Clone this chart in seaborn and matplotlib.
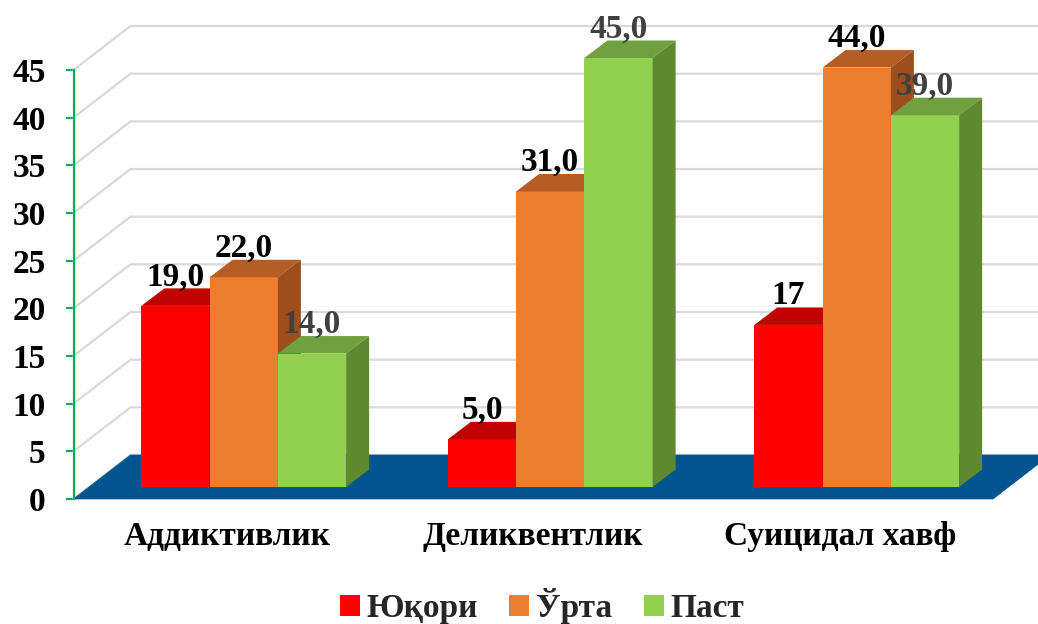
import numpy as np
import pandas as pd
import seaborn as sns
import matplotlib
matplotlib.use("Agg")
import matplotlib.pyplot as plt
from matplotlib.patches import Polygon, Patch, Rectangle
from matplotlib.lines import Line2D
from matplotlib.transforms import ScaledTranslation

# ---- data ----
categories = ["Аддиктивлик", "Деликвентлик", "Суицидал хавф"]
series = ["Юқори", "Ўрта", "Паст"]
yuqori = [19.0, 5.0, 17.0]
urta = [22.0, 31.0, 44.0]
past = [14.0, 45.0, 39.0]
yuqori_labels = ["19,0", "5,0", "17"]
urta_labels = ["22,0", "31,0", "44,0"]
past_labels = ["14,0", "45,0", "39,0"]
y_ticks = [0, 5, 10, 15, 20, 25, 30, 35, 40, 45]

# ---- style ----
front_colors = ["#FF0000", "#ED7D31", "#92D050"]
top_colors = ["#C00000", "#B55D24", "#71A03F"]
side_colors = ["#A00000", "#9C4F1D", "#5F8833"]
label_colors = ["#000000", "#000000", "#404040"]
floor_color = "#02558F"
grid_color = "#D9D9D9"
axis_color = "#00B050"
FS = 24

sns.set_theme(style="white")
plt.rcParams["font.family"] = ["Liberation Serif", "DejaVu Serif"]
plt.rcParams["font.weight"] = "bold"

df = pd.DataFrame({
    "category": categories * 3,
    "series": [series[0]] * 3 + [series[1]] * 3 + [series[2]] * 3,
    "value": yuqori + urta + past,
})
all_labels = [yuqori_labels, urta_labels, past_labels]

DPI = 100
fig = plt.figure(figsize=(10.38, 6.24), dpi=DPI)
ax = fig.add_axes([73.5 / 1038, 1 - 499 / 624, (993 - 73.5) / 1038, 429 / 624])

sns.barplot(data=df, x="category", y="value", hue="series", order=categories,
            hue_order=series, palette=front_colors, width=0.668, gap=0,
            saturation=1, errorbar=None, legend=False, linewidth=0, ax=ax)

bars = sorted([p for p in ax.patches if isinstance(p, Rectangle)], key=lambda p: p.get_x())

ax.set_xlim(-0.5, 2.5)
ax.set_ylim(0, 45)
ax.set_yticks(y_ticks)
ax.set_xlabel("")
ax.set_ylabel("")

pos = ax.get_position()
W = pos.width * fig.get_figwidth() * DPI
H = pos.height * fig.get_figheight() * DPI
ux = W / 3.0
uy = H / 45.0

# depth geometry (pixels)
floor_dx, floor_dy = 57, 44
plane_dx, plane_dy = 17, 12
bar_dx, bar_dy = 23, 17.5

trans_bar = ax.transData + ScaledTranslation(plane_dx / DPI, plane_dy / DPI, fig.dpi_scale_trans)
trans_lab = ax.transData + ScaledTranslation(plane_dx / DPI, (plane_dy + 3) / DPI, fig.dpi_scale_trans)

# back & side wall gridlines
fdx, fdy = floor_dx / ux, floor_dy / uy
for v in y_ticks:
    ax.add_line(Line2D([-0.5, -0.5 + fdx, 2.5 + fdx], [v, v + fdy, v + fdy],
                       color=grid_color, lw=1.6, zorder=1, clip_on=False))

# floor
ax.add_patch(Polygon([(-0.5, 0), (2.5, 0), (2.5 + fdx, fdy), (-0.5 + fdx, fdy)],
                     closed=True, facecolor=floor_color, edgecolor=floor_color,
                     lw=0.5, zorder=2, clip_on=False))

# bars: 3D faces
ddx, ddy = bar_dx / ux, bar_dy / uy
for i, b in enumerate(bars):
    g, s = i // 3, i % 3
    x0 = b.get_x(); w = b.get_width(); h = b.get_height(); x1 = x0 + w
    b.set_transform(trans_bar)
    b.set_clip_on(False)
    b.set_zorder(10 + 3 * i)
    top = Polygon([(x0, h), (x1, h), (x1 + ddx, h + ddy), (x0 + ddx, h + ddy)],
                  closed=True, facecolor=top_colors[s], edgecolor="none",
                  transform=trans_bar, zorder=11 + 3 * i, clip_on=False)
    side = Polygon([(x1, 0), (x1, h), (x1 + ddx, h + ddy), (x1 + ddx, ddy)],
                   closed=True, facecolor=side_colors[s], edgecolor="none",
                   transform=trans_bar, zorder=12 + 3 * i, clip_on=False)
    ax.add_patch(top)
    ax.add_patch(side)
    ax.text(x0 + w / 2, h + ddy, all_labels[s][g], transform=trans_lab,
            ha="center", va="baseline", fontsize=FS, fontweight="bold",
            color=label_colors[s], zorder=200, clip_on=False)

# axes styling
for sp in ["top", "right", "bottom"]:
    ax.spines[sp].set_visible(False)
ax.spines["left"].set_color(axis_color)
ax.spines["left"].set_linewidth(1.6)
ax.spines["left"].set_zorder(5)
ax.tick_params(axis="y", length=6, width=1.6, color=axis_color, direction="out",
               labelsize=FS, pad=14, left=True)
ax.tick_params(axis="x", length=0, labelsize=FS, pad=16)
for t in ax.get_xticklabels() + ax.get_yticklabels():
    t.set_fontweight("bold")
    t.set_color("black")
ax.grid(False)
ax.set_facecolor("none")

handles = [Patch(facecolor=c, edgecolor="none") for c in front_colors]
fig.legend(handles, series, loc="center", bbox_to_anchor=(542 / 1038, 1 - 606 / 624),
           ncol=3, frameon=False, handlelength=0.6, handleheight=0.6,
           handletextpad=0.2, columnspacing=0.95, prop={"weight": "bold", "size": FS})

fig.savefig("out.png", dpi=DPI)
